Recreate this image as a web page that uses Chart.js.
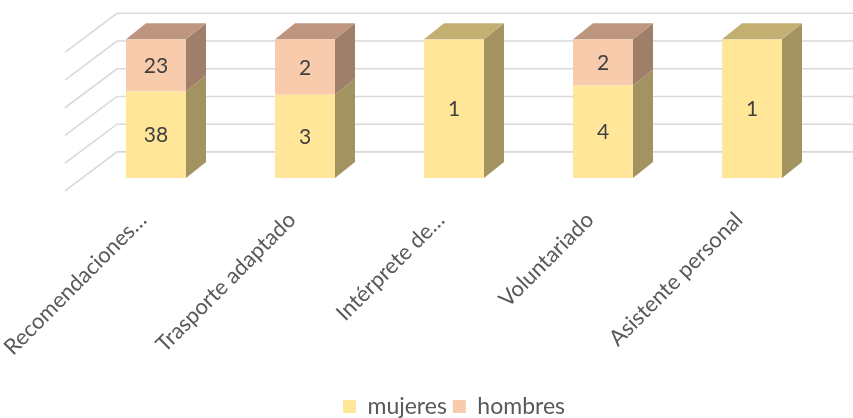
<!DOCTYPE html>
<html><head><meta charset="utf-8">
<script src="https://cdn.jsdelivr.net/npm/chart.js@4"></script>
<style>html,body{margin:0;padding:0;background:#fff}</style>
</head><body>
<canvas id="c" width="853" height="418"></canvas>
<script>
const categories = ['Recomendaciones…', 'Trasporte adaptado', 'Intérprete de…', 'Voluntariado', 'Asistente personal'];
const mujeres = [38, 3, 1, 4, 1];
const hombres = [23, 2, 0, 2, 0];
const yTicks = [0, 20, 40, 60, 80, 100];

const totals = categories.map((_, i) => mujeres[i] + hombres[i]);
const mujeresPct = mujeres.map((v, i) => v / totals[i] * 100);
const hombresPct = hombres.map((v, i) => v / totals[i] * 100);

const FONT = 'Lato, "Open Sans", sans-serif';
const DX = 20, DY = 16;
const sideColors = ['#A39360', '#A07F6A'];
const topColors = ['#C4AF73', '#BE9680'];

const wallPlugin = {
  id: 'wall',
  beforeDatasetsDraw(chart) {
    const ctx = chart.ctx, y = chart.scales.y, a = chart.chartArea;
    ctx.save();
    ctx.strokeStyle = '#D9D9D9';
    ctx.lineWidth = 1.6;
    yTicks.forEach(v => {
      const py = y.getPixelForValue(v);
      ctx.beginPath();
      ctx.moveTo(a.left - 16.5, py + 13);
      ctx.lineTo(a.left + 35.5, py - 26);
      ctx.lineTo(chart.width, py - 26);
      ctx.stroke();
    });
    ctx.restore();
  }
};

const barPlugin = {
  id: 'bar3d',
  afterDatasetsDraw(chart) {
    const ctx = chart.ctx;
    ctx.save();
    const n = categories.length;
    for (let i = 0; i < n; i++) {
      let topIdx = -1;
      chart.data.datasets.forEach((ds, d) => { if (ds.data[i] > 0) topIdx = d; });
      chart.data.datasets.forEach((ds, d) => {
        if (!(ds.data[i] > 0)) return;
        const el = chart.getDatasetMeta(d).data[i];
        const x0 = el.x - el.width / 2, x1 = el.x + el.width / 2;
        const top = el.y, bot = el.base;
        ctx.fillStyle = sideColors[d];
        ctx.beginPath();
        ctx.moveTo(x1, top); ctx.lineTo(x1 + DX, top - DY);
        ctx.lineTo(x1 + DX, bot - DY); ctx.lineTo(x1, bot); ctx.closePath();
        ctx.fill();
        if (d === topIdx) {
          ctx.fillStyle = topColors[d];
          ctx.beginPath();
          ctx.moveTo(x0, top); ctx.lineTo(x1, top);
          ctx.lineTo(x1 + DX, top - DY); ctx.lineTo(x0 + DX, top - DY); ctx.closePath();
          ctx.fill();
        }
      });
    }
    ctx.fillStyle = '#404040';
    ctx.font = '21px ' + FONT;
    ctx.textAlign = 'center';
    ctx.textBaseline = 'middle';
    const raw = [mujeres, hombres];
    chart.data.datasets.forEach((ds, d) => {
      chart.getDatasetMeta(d).data.forEach((el, i) => {
        if (!(raw[d][i] > 0)) return;
        ctx.fillText(String(raw[d][i]), el.x, (el.y + el.base) / 2 + 1);
      });
    });
    ctx.restore();
  }
};

new Chart(document.getElementById('c'), {
  type: 'bar',
  data: {
    labels: categories,
    datasets: [
      { label: 'mujeres', data: mujeresPct, backgroundColor: '#FFE699', borderWidth: 0 },
      { label: 'hombres', data: hombresPct, backgroundColor: '#F8CBAD', borderWidth: 0 }
    ]
  },
  options: {
    responsive: false,
    animation: false,
    devicePixelRatio: 1,
    layout: { padding: { left: 81.5, right: 26.5, top: 39.3, bottom: -10 } },
    datasets: { bar: { categoryPercentage: 1, barPercentage: 60 / 149 } },
    scales: {
      x: {
        stacked: true,
        grid: { display: false },
        border: { display: false },
        ticks: {
          color: '#595959', font: { family: FONT, size: 22 },
          maxRotation: 45, minRotation: 45, padding: 21, labelOffset: -13, autoSkip: false
        },
        afterFit(s) { s.height = 211.1; s.paddingLeft = 0; s.paddingRight = 0; }
      },
      y: {
        stacked: true, min: 0, max: 100, display: false,
        afterBuildTicks(s) { s.ticks = yTicks.map(v => ({ value: v })); }
      }
    },
    plugins: {
      legend: {
        position: 'bottom',
        labels: { color: '#595959', font: { family: FONT, size: 23 }, boxWidth: 13, boxHeight: 13, padding: 6 }
      },
      tooltip: { enabled: false }
    }
  },
  plugins: [wallPlugin, barPlugin]
});
</script>
</body></html>
